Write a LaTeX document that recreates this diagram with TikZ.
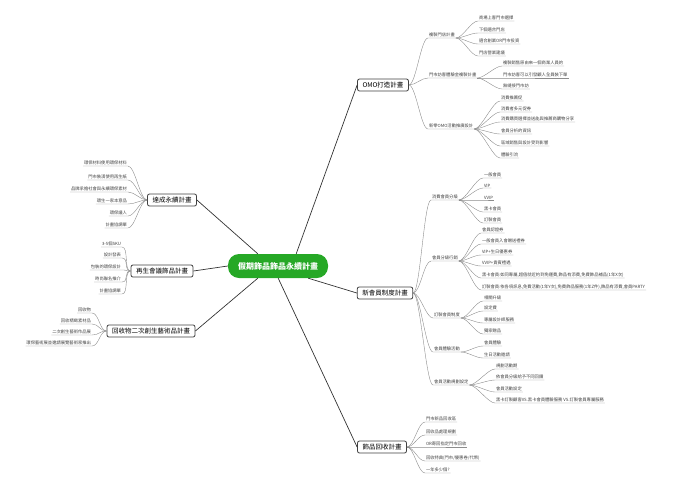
\documentclass[tikz,border=0pt]{standalone}
\usepackage{fontspec}
\setmainfont{Noto Sans CJK TC}
\begin{document}
\begin{tikzpicture}[x=1pt,y=-1pt,
  leaf/.style={inner sep=0.8pt,font=\fontsize{4.3}{5}\selectfont,text=black!75},
  conn/.style={draw=black!45,line width=0.4pt},
  mainc/.style={draw=black!80,line width=0.7pt},
  main/.style={draw=black!75,fill=white,rounded corners=2pt,line width=0.8pt,inner xsep=5pt,inner ysep=3pt,font=\fontsize{6.5}{7}\selectfont},
  root/.style={fill=green!60!black!85,text=white,rounded corners=11pt,minimum height=24pt,inner xsep=10pt,font=\bfseries\fontsize{8}{9}\selectfont}]
\useasboundingbox (0,0) rectangle (683,483);
\newcommand\R[5]{\node[leaf,anchor=south west] (#2) at (#3,#4) {#5};
  \draw[conn] (#1) .. controls +(7,0) and +(-7,0) .. (#2.south west) -- (#2.south east);}
\newcommand\Lf[5]{\node[leaf,anchor=south east] (#2) at (#3,#4) {#5};
  \draw[conn] (#1) .. controls +(-7,0) and +(7,0) .. (#2.south east) -- (#2.south west);}

\node[root] (c) at (278,266) {假期飾品飾品永續計畫};
\node[main] (omo) at (383,85) {OMO打造計畫};
\node[main] (mem) at (385,293) {新會員制度計畫};
\node[main] (rec) at (382,447) {飾品回收計畫};
\node[main] (l1) at (172,200) {達成永續計畫};
\node[main] (l2) at (162,271) {再生會議飾品計畫};
\node[main] (l3) at (151,331) {回收物二次創生藝術品計畫};
\draw[mainc] (c.north east) ++(-32,0) -- (omo.west);
\draw[mainc] (c.south east) ++(-20,0) -- (mem.west);
\draw[mainc] (c.south east) ++(-50,0) -- (rec.west);
\draw[mainc] (c.north west) ++(30,0) -- (l1.east);
\draw[mainc] (c.west) -- (l2.east);
\draw[mainc] (c.south west) ++(30,0) -- (l3.east);

% OMO
\R{omo.east}{a1}{428}{38}{複製門店計畫}
\R{a1.south east}{a11}{478}{21}{商場上客門市選擇}
\R{a1.south east}{a12}{478}{33}{下個適合門店}
\R{a1.south east}{a13}{478}{44}{適合創業OR門市投資}
\R{a1.south east}{a14}{478}{56}{門店營業建議}
\R{omo.east}{a2}{428}{78}{門市訪客體驗金複製計畫}
\R{a2.south east}{a21}{502}{66}{複製銷售原由來一個商業人員的}
\R{a2.south east}{a22}{502}{78}{門市訪客可以引發顧人全員裝下單}
\R{a2.south east}{a23}{502}{89}{無縫接門市訪}
\R{omo.east}{a3}{428}{129}{新零OMO活動推廣設計}
\R{a3.south east}{a31}{500}{101}{消費推薦促}
\R{a3.south east}{a32}{500}{112}{消費者多元促券}
\R{a3.south east}{a33}{500}{122}{消費購買選擇並送能與推薦商購物分享}
\R{a3.south east}{a34}{500}{134}{會員分析的資訊}
\R{a3.south east}{a35}{500}{146}{區域銷售與設計受到影響}
\R{a3.south east}{a36}{500}{158}{體驗引流}

% member
\R{mem.east}{b1}{431}{200}{消費會員分級}
\R{b1.south east}{b11}{483}{178}{一般會員}
\R{b1.south east}{b12}{483}{188}{VIP}
\R{b1.south east}{b13}{483}{200}{VVIP}
\R{b1.south east}{b14}{483}{212}{黑卡會員}
\R{b1.south east}{b15}{483}{223}{訂製會員}
\R{mem.east}{b2}{431}{261}{會員分級行銷}
\R{b2.south east}{b21}{481}{233}{會員認證券}
\R{b2.south east}{b22}{481}{244}{一般會員入會贈送禮券}
\R{b2.south east}{b23}{481}{255}{VIP+生日優惠券}
\R{b2.south east}{b24}{481}{266}{VVIP+貴賓禮遇}
\R{b2.south east}{b25}{481}{278}{黑卡會員:如同專屬,超值就近約到免運費,飾品有添費,免費飾品補品(1年X次)}
\R{b2.south east}{b26}{481}{290}{訂製會員:依各項訊息,免費活動(1年Y次),免費飾品服務(1年Z件),飾品有添費,會員PARTY}
\R{mem.east}{b3}{433}{318}{訂製會員制度}
\R{b3.south east}{b31}{483}{301}{相關升級}
\R{b3.south east}{b32}{483}{311}{設定費}
\R{b3.south east}{b33}{483}{323}{專屬設計師服務}
\R{b3.south east}{b34}{483}{334}{獨家贈品}
\R{mem.east}{b4}{433}{352}{會員體驗活動}
\R{b4.south east}{b41}{483}{346}{會員體驗}
\R{b4.south east}{b42}{483}{358}{生日活動邀請}
\R{mem.east}{b5}{433}{385}{會員活動規劃設定}
\R{b5.south east}{b51}{495}{369}{規劃活動期}
\R{b5.south east}{b52}{495}{380}{依會員分級給予不同回饋}
\R{b5.south east}{b53}{495}{392}{會員活動設定}
\R{b5.south east}{b54}{495}{403}{黑卡訂製顧客VS.黑卡會員體驗服務 VS.訂製會員專屬服務}

% recycle
\R{rec.east}{r1}{425}{422}{門市新品回收區}
\R{rec.east}{r2}{425}{435}{回收品處理規劃}
\R{rec.east}{r3}{425}{447}{OR寄回指定門市回收}
\R{rec.east}{r4}{425}{461}{回收特典(門市/優惠卷/代幣)}
\R{rec.east}{r5}{425}{473}{一年多少個?}

% left
\Lf{l1.west}{d1}{128}{166}{環保材料使用環保材料}
\Lf{l1.west}{d2}{128}{180}{門市裝潢使用再生紙}
\Lf{l1.west}{d3}{128}{192}{品牌承擔社會與永續環保素材}
\Lf{l1.west}{d4}{128}{204}{環生一家本意品}
\Lf{l1.west}{d5}{128}{216}{環保議人}
\Lf{l1.west}{d6}{128}{228}{計畫協調單}
\Lf{l2.west}{e1}{122}{247}{3-5個SKU}
\Lf{l2.west}{e2}{122}{258}{設計發表}
\Lf{l2.west}{e3}{122}{270}{包裝的環保設計}
\Lf{l2.west}{e4}{122}{282}{時尚聯名推介}
\Lf{l2.west}{e5}{122}{294}{計畫協調單}
\Lf{l3.west}{f1}{92}{313}{回收物}
\Lf{l3.west}{f2}{92}{324}{回收精緻素材品}
\Lf{l3.west}{f3}{92}{335}{二次創生藝術作品展}
\Lf{l3.west}{f4}{92}{346}{環保藝術展並邀請展覽藝術家推出}
\end{tikzpicture}
\end{document}
